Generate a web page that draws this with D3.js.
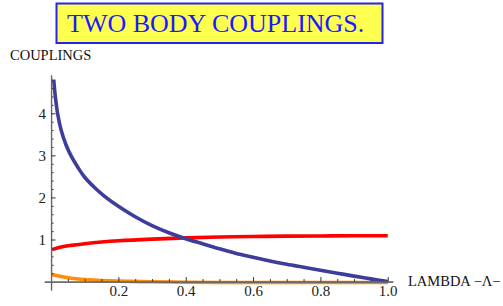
<!DOCTYPE html>
<html>
<head>
<meta charset="utf-8">
<script src="https://cdn.jsdelivr.net/npm/d3@7"></script>
<style>
  body { margin: 0; background: #fff; }
  svg { display: block; }
  text { font-family: "Liberation Serif", "Times New Roman", serif; }
</style>
</head>
<body>
<script>

// lambda values the curves were read at
var lambdaBlue = [0.008, 0.012, 0.02, 0.03, 0.045, 0.06, 0.08, 0.1, 0.13, 0.16, 0.2, 0.25, 0.3, 0.35, 0.4, 0.45, 0.5, 0.55, 0.6, 0.65, 0.7, 0.75, 0.8, 0.85, 0.9, 0.95, 1.0]
var blueVals = [4.8, 4.45, 3.97, 3.6, 3.24, 2.98, 2.71, 2.48, 2.23, 2.02, 1.79, 1.54, 1.33, 1.16, 1.02, 0.9, 0.78, 0.67, 0.58, 0.49, 0.41, 0.34, 0.27, 0.2, 0.13, 0.065, 0.0]

var lambdaRed = [0.003, 0.03, 0.06, 0.1, 0.15, 0.2, 0.3, 0.4, 0.5, 0.6, 0.7, 0.8, 0.9, 1.0]
var redVals = [0.76, 0.82, 0.86, 0.9, 0.94, 0.97, 1.01, 1.04, 1.06, 1.07, 1.08, 1.085, 1.09, 1.09]

var lambdaOrange = [0.003, 0.03, 0.06, 0.1, 0.15, 0.2, 0.3, 0.4, 0.5, 0.6, 0.7, 0.8, 0.9, 1.0]
var orangeVals = [0.17, 0.12, 0.08, 0.05, 0.025, 0.01, -0.005, -0.015, -0.02, -0.02, -0.02, -0.02, -0.02, -0.02]

var xMajor = [0.2, 0.4, 0.6, 0.8, 1.0]
var yMajor = [1, 2, 3, 4]

var titleText = "TWO BODY COUPLINGS."
var yTitle = "COUPLINGS"
var xTitle = "LAMBDA \u2212\u039B\u2212"

var svg = d3.select("body").append("svg")
          .attr('width', 503)
          .attr('height', 306)

var x = d3.scaleLinear().domain([-0.02, 1.015]).range([44.3, 392.8])
var y = d3.scaleLinear().domain([-0.2, 4.91]).range([290, 75])

// title box
svg.append("rect")
   .attr("x", 56.5).attr("y", 3.5)
   .attr("width", 326).attr("height", 39.5)
   .style("fill", "#ffff4f")
   .style("stroke", "#2424f0")
   .style("stroke-width", 2)
svg.append("text")
   .attr("x", 67).attr("y", 32)
   .style("font-size", "26px")
   .style("fill", "#1a1aff")
   .text(titleText)

svg.append("text")
   .attr("x", 10).attr("y", 60)
   .style("font-size", "14.5px")
   .style("fill", "#111")
   .text(yTitle)

// curves
var line = d3.line()
   .x(function(d) { return x(d[0]) })
   .y(function(d) { return y(d[1]) })
   .curve(d3.curveCatmullRom.alpha(0.5))

var curves = [
  {xs: lambdaOrange, ys: orangeVals, color: "#ff8c0a"},
  {xs: lambdaRed, ys: redVals, color: "#ff0000"},
  {xs: lambdaBlue, ys: blueVals, color: "#3d3d9c"}
]

curves.forEach(function(c) {
  svg.append("path")
     .datum(d3.zip(c.xs, c.ys))
     .attr("d", line)
     .style("fill", "none")
     .style("stroke", c.color)
     .style("stroke-width", 3.6)
     .style("stroke-linecap", "butt")
})

// axes
var xMinor = d3.range(0.05, 1.001, 0.05).filter(function(v) { return Math.abs(v * 5 - Math.round(v * 5)) > 1e-6 })
var yMinor = d3.range(0.2, 4.91, 0.2).filter(function(v) { return Math.abs(v - Math.round(v)) > 1e-6 })

var gx = svg.append("g").attr("transform", "translate(0," + y(0) + ")")
gx.call(d3.axisBottom(x).tickValues(xMinor).tickSize(-2.5).tickFormat("").tickSizeOuter(0))
var gx2 = svg.append("g").attr("transform", "translate(0," + y(0) + ")")
gx2.call(d3.axisBottom(x).tickValues(xMajor).tickSizeInner(-4.5).tickSizeOuter(0)
   .tickPadding(4).tickFormat(d3.format(".1f")))

var gy = svg.append("g").attr("transform", "translate(" + x(0) + ",0)")
gy.call(d3.axisLeft(y).tickValues(yMinor).tickSize(-2.5).tickFormat("").tickSizeOuter(0))
var gy2 = svg.append("g").attr("transform", "translate(" + x(0) + ",0)")
gy2.call(d3.axisLeft(y).tickValues(yMajor).tickSizeInner(-4.5).tickSizeOuter(0)
   .tickPadding(5).tickFormat(d3.format("d")))

;[gx, gx2, gy, gy2].forEach(function(g) {
  g.attr("font-family", "Liberation Serif").attr("font-size", 15)
})

svg.selectAll(".domain").style("stroke", "#666").style("stroke-width", 1.2)
svg.selectAll(".tick line").style("stroke", "#333").style("stroke-width", 1)
svg.selectAll(".tick text")
   .attr("font-family", "Liberation Serif")
   .attr("font-size", 15)
   .style("fill", "#222")

svg.append("text")
   .attr("x", 408).attr("y", 286)
   .style("font-size", "14.5px")
   .style("fill", "#111")
   .text(xTitle)

</script>
</body>
</html>
